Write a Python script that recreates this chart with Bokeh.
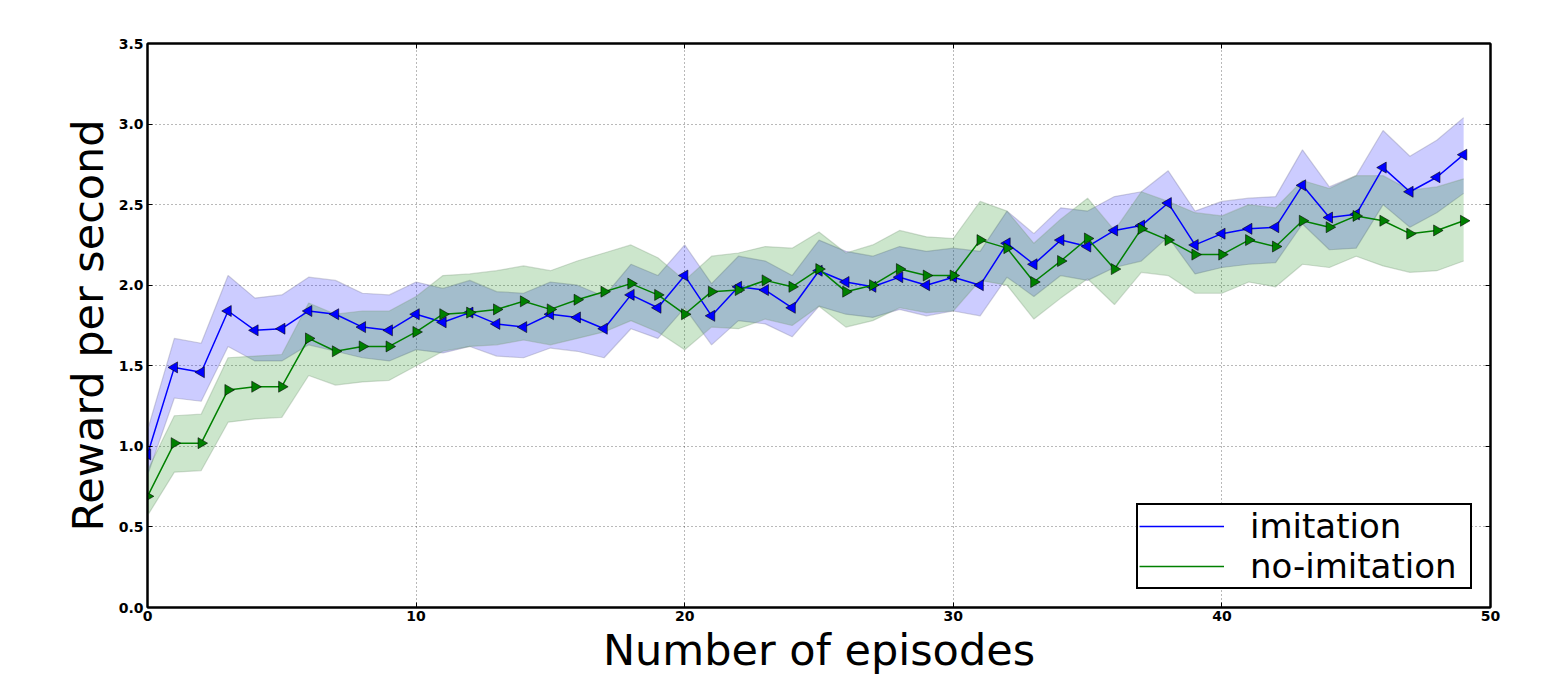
from bokeh.plotting import figure
from bokeh.models import (Range1d, FixedTicker, PrintfTickFormatter, LinearAxis,
                          CustomJSTickFormatter, Legend, LegendItem)
from bokeh.embed import file_html
from bokeh.resources import INLINE
import math

# Episode index
episodes = list(range(50))

# Imitation learner: mean reward per second and its confidence band
imitation_mean = [0.95, 1.49, 1.46, 1.84, 1.72, 1.73, 1.84, 1.82, 1.74, 1.72,
                  1.82, 1.77, 1.83, 1.76, 1.74, 1.82, 1.80, 1.73, 1.94, 1.86,
                  2.06, 1.81, 1.99, 1.97, 1.86, 2.09, 2.02, 1.99, 2.05, 2.00,
                  2.05, 2.00, 2.26, 2.13, 2.28, 2.24, 2.34, 2.37, 2.51, 2.25,
                  2.32, 2.35, 2.36, 2.62, 2.42, 2.44, 2.73, 2.58, 2.67, 2.81]
imitation_upper = [1.10, 1.67, 1.64, 2.06, 1.92, 1.94, 2.05, 2.03, 1.95, 1.94,
                   2.02, 1.98, 2.03, 1.96, 1.95, 2.02, 2.00, 1.93, 2.13, 2.06,
                   2.25, 2.01, 2.18, 2.15, 2.06, 2.28, 2.21, 2.18, 2.24, 2.21,
                   2.23, 2.21, 2.46, 2.32, 2.48, 2.46, 2.55, 2.58, 2.71, 2.46,
                   2.52, 2.54, 2.55, 2.84, 2.61, 2.68, 2.96, 2.80, 2.90, 3.04]
imitation_lower = [0.82, 1.30, 1.28, 1.62, 1.53, 1.53, 1.63, 1.59, 1.55, 1.53,
                   1.60, 1.58, 1.62, 1.56, 1.55, 1.61, 1.59, 1.55, 1.73, 1.67,
                   1.86, 1.63, 1.78, 1.76, 1.68, 1.87, 1.82, 1.80, 1.85, 1.81,
                   1.84, 1.81, 2.05, 1.93, 2.06, 2.03, 2.11, 2.15, 2.30, 2.07,
                   2.11, 2.13, 2.14, 2.38, 2.22, 2.23, 2.50, 2.36, 2.45, 2.57]

# Learner without imitation
noimit_mean = [0.69, 1.02, 1.02, 1.35, 1.37, 1.37, 1.67, 1.59, 1.62, 1.62,
               1.71, 1.82, 1.83, 1.85, 1.90, 1.85, 1.91, 1.96, 2.01, 1.94,
               1.82, 1.96, 1.97, 2.03, 1.99, 2.10, 1.96, 2.00, 2.10, 2.06,
               2.06, 2.28, 2.23, 2.02, 2.15, 2.29, 2.10, 2.35, 2.28, 2.19,
               2.19, 2.28, 2.24, 2.40, 2.36, 2.43, 2.40, 2.32, 2.34, 2.40]
noimit_upper = [0.85, 1.19, 1.20, 1.55, 1.56, 1.57, 1.89, 1.82, 1.84, 1.84,
                1.93, 2.06, 2.07, 2.09, 2.12, 2.09, 2.15, 2.20, 2.25, 2.17,
                2.03, 2.18, 2.20, 2.24, 2.23, 2.33, 2.20, 2.25, 2.34, 2.30,
                2.29, 2.52, 2.46, 2.26, 2.41, 2.54, 2.34, 2.58, 2.52, 2.45,
                2.43, 2.50, 2.48, 2.65, 2.60, 2.68, 2.68, 2.59, 2.61, 2.66]
noimit_lower = [0.57, 0.84, 0.85, 1.15, 1.17, 1.18, 1.44, 1.38, 1.40, 1.41,
                1.50, 1.59, 1.62, 1.63, 1.66, 1.63, 1.67, 1.71, 1.78, 1.71,
                1.60, 1.74, 1.73, 1.79, 1.75, 1.87, 1.74, 1.78, 1.86, 1.83,
                1.84, 2.03, 2.00, 1.79, 1.92, 2.04, 1.88, 2.08, 2.06, 1.95,
                1.95, 2.02, 1.99, 2.13, 2.11, 2.18, 2.12, 2.08, 2.09, 2.15]

x_ticks = [0, 10, 20, 30, 40, 50]
y_ticks = [0.0, 0.5, 1.0, 1.5, 2.0, 2.5, 3.0, 3.5]

BLUE = "#0000ff"
GREEN = "#008000"
FONT = "DejaVu Sans"

p = figure(width=1542, height=677, output_backend="svg", toolbar_location=None,
           x_range=Range1d(0, 50), y_range=Range1d(0, 3.5),
           min_border_left=147, min_border_right=52, min_border_top=43,
           min_border_bottom=70)

p.outline_line_color = "black"
p.outline_line_width = 2
p.background_fill_color = "white"
p.border_fill_color = "white"

# Axes
for ax in (p.xaxis[0], p.yaxis[0]):
    ax.axis_line_color = "black"
    ax.axis_line_width = 2
    ax.major_tick_in = 5
    ax.major_tick_out = 0
    ax.minor_tick_line_color = None
    ax.major_label_text_font = FONT
    ax.major_label_text_font_style = "bold"
    ax.major_label_text_font_size = "14px"
    ax.major_label_text_color = "black"
    ax.axis_label_text_font = FONT
    ax.axis_label_text_font_style = "normal"
    ax.axis_label_text_font_size = "43px"
    ax.axis_label_text_color = "black"

p.xaxis[0].ticker = FixedTicker(ticks=x_ticks)
p.yaxis[0].ticker = FixedTicker(ticks=y_ticks)
p.yaxis[0].formatter = PrintfTickFormatter(format="%.1f")
p.xaxis[0].major_label_standoff = 3
p.yaxis[0].major_label_standoff = 4
p.xaxis[0].axis_label = "Number of episodes"
p.xaxis[0].axis_label_standoff = 1
p.yaxis[0].axis_label = "Reward per second"
p.yaxis[0].axis_label_standoff = 3

# Mirror ticks on the top and right edges
blank = CustomJSTickFormatter(code="return ''")
for side, ticks in (("right", y_ticks), ("above", x_ticks)):
    ax = LinearAxis(ticker=FixedTicker(ticks=ticks), formatter=blank,
                    major_tick_in=5, major_tick_out=0,
                    minor_tick_line_color=None, axis_line_color="black",
                    axis_line_width=2, major_label_standoff=0)
    p.add_layout(ax, side)

# Dotted grid
p.xgrid[0].ticker = FixedTicker(ticks=x_ticks)
p.ygrid[0].ticker = FixedTicker(ticks=y_ticks)
for g in (p.xgrid[0], p.ygrid[0]):
    g.grid_line_color = "black"
    g.grid_line_alpha = 0.55
    g.grid_line_dash = "1 3"
    g.grid_line_width = 1

# Confidence bands
p.varea(x=episodes, y1=imitation_lower, y2=imitation_upper,
        fill_color=BLUE, fill_alpha=0.2)
for edge in (imitation_upper, imitation_lower):
    p.line(episodes, edge, line_color="#7f7f9f", line_alpha=0.35, line_width=1.2)
p.varea(x=episodes, y1=noimit_lower, y2=noimit_upper,
        fill_color=GREEN, fill_alpha=0.2)
for edge in (noimit_upper, noimit_lower):
    p.line(episodes, edge, line_color="#7f9f7f", line_alpha=0.35, line_width=1.2)

# Mean curves with triangle markers
imit_line = p.line(episodes, imitation_mean, line_color=BLUE, line_width=1.5)
p.scatter(episodes, imitation_mean, marker="triangle", angle=math.pi / 2,
          size=11, fill_color=BLUE, line_color="black", line_width=0.8,
          line_alpha=0.7)
noimit_line = p.line(episodes, noimit_mean, line_color=GREEN, line_width=1.5)
p.scatter(episodes, noimit_mean, marker="triangle", angle=-math.pi / 2,
          size=11, fill_color=GREEN, line_color="black", line_width=0.8,
          line_alpha=0.7)

# Legend (line samples only)
legend = Legend(items=[LegendItem(label="imitation", renderers=[imit_line]),
                       LegendItem(label="no-imitation", renderers=[noimit_line])],
                location="bottom_right")
legend.label_text_font = FONT
legend.label_text_font_size = "34px"
legend.label_text_color = "black"
legend.glyph_width = 85
legend.label_standoff = 26
legend.padding = 1
legend.spacing = 0
legend.margin = 18
legend.label_width = 219
legend.border_line_color = "black"
legend.border_line_alpha = 1.0
legend.border_line_width = 2
legend.background_fill_color = "white"
legend.background_fill_alpha = 1.0
p.add_layout(legend)

open("out.html", "w").write(file_html(p, INLINE))
